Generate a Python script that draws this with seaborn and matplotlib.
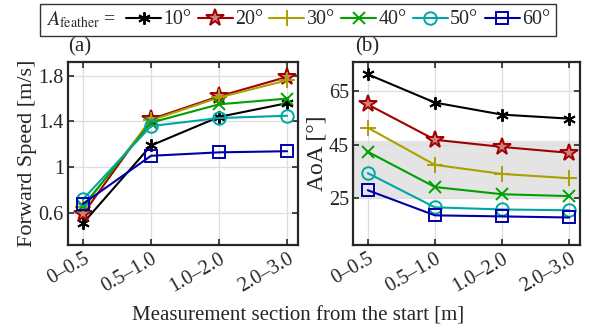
import numpy as np
import pandas as pd
import matplotlib
matplotlib.use('Agg')
import matplotlib.pyplot as plt
import seaborn as sns
from matplotlib.offsetbox import HPacker

sns.set_style('ticks')
plt.rcParams['font.family'] = ['Liberation Serif', 'DejaVu Serif']
plt.rcParams['mathtext.fontset'] = 'stix'

# data
sections = ['0\u20130.5', '0.5\u20131.0', '1.0\u20132.0', '2.0\u20133.0']
angles = ['10°', '20°', '30°', '40°', '50°', '60°']

speed_10 = [0.51, 1.19, 1.44, 1.56]
speed_20 = [0.59, 1.42, 1.62, 1.79]
speed_30 = [0.65, 1.41, 1.61, 1.76]
speed_40 = [0.66, 1.39, 1.55, 1.60]
speed_50 = [0.72, 1.36, 1.43, 1.45]
speed_60 = [0.68, 1.10, 1.13, 1.14]

aoa_10 = [71.4, 60.8, 56.3, 54.8]
aoa_20 = [60.1, 46.9, 44.2, 42.0]
aoa_30 = [51.4, 37.5, 34.1, 32.5]
aoa_40 = [42.4, 29.2, 26.5, 25.8]
aoa_50 = [34.4, 21.6, 20.8, 20.5]
aoa_60 = [28.0, 18.6, 18.2, 17.8]

speed = [speed_10, speed_20, speed_30, speed_40, speed_50, speed_60]
aoa = [aoa_10, aoa_20, aoa_30, aoa_40, aoa_50, aoa_60]

colors = ['black', '#a00000', '#aaa000', '#00a000', '#00a5a5', '#0000a8']
markers = [(6, 2, 0), '*', '+', 'x', 'o', 's']
msizes = [9, 13, 11, 8, 9, 8]

FS = 15
LFS = 14.4

fig = plt.figure(figsize=(5.89, 3.29), dpi=100)
ax1 = fig.add_axes([0.1155, 0.2553, 0.3905, 0.5563])
ax2 = fig.add_axes([0.5993, 0.2553, 0.3854, 0.5563])

ax2.axhspan(25.5, 46.5, color='#e4e4e4', zorder=0)

for i in range(6):
    for ax, vals in [(ax1, speed[i]), (ax2, aoa[i])]:
        face = 'none' if markers[i] in ['o', 's'] else colors[i]
        if markers[i] == '*':
            face = '#d08080'
        sns.lineplot(x=sections, y=vals, ax=ax, color=colors[i], sort=False,
                     marker=markers[i], markersize=msizes[i], mfc=face,
                     mec=colors[i], mew=1.4, linewidth=1.5, label=angles[i],
                     legend=False)

for ax in [ax1, ax2]:
    ax.set_xlim(-0.22, 3.16)
    ax.grid(True, color='#dddddd', linewidth=0.9)
    ax.set_axisbelow(True)
    ax.tick_params(direction='in', top=True, right=True, labelsize=14.5,
                   length=4, width=1.2, pad=3)
    for s in ax.spines.values():
        s.set_linewidth(1.6)
    ax.set_xticks(range(4))
    ax.set_xticklabels(sections, rotation=30, ha='right', rotation_mode='anchor')
    ax.set_xlabel('')

ax1.set_ylim(0.32, 1.92)
ax1.set_yticks([0.6, 1.0, 1.4, 1.8])
ax1.set_yticklabels(['0.6', '1', '1.4', '1.8'])
ax1.set_ylabel('Forward Speed [m/s]', fontsize=16, labelpad=1)

ax2.set_ylim(7.5, 76)
ax2.set_yticks([25, 45, 65])
ax2.set_ylabel('AoA [°]', fontsize=17, labelpad=1)

ax1.text(0.0, 1.03, '(a)', transform=ax1.transAxes, fontsize=FS, va='bottom')
ax2.text(0.01, 1.03, '(b)', transform=ax2.transAxes, fontsize=FS, va='bottom')

fig.text(298 / 589, 1 - 320 / 329, 'Measurement section from the start [m]',
         ha='center', va='baseline', fontsize=FS)

handles, labels = ax1.get_legend_handles_labels()
leg = fig.legend(handles, labels, ncol=6, loc='center', bbox_to_anchor=(298 / 589, 1 - 20 / 329),
                 fontsize=LFS, title='$A_{\\rm feather}$ =', title_fontsize=LFS,
                 frameon=True, fancybox=False, edgecolor='black', handlelength=1.75,
                 handletextpad=0.1, columnspacing=0.33, borderpad=0.22)
leg.get_frame().set_linewidth(1.0)
# put the title on the same row as the entries
leg._legend_box = HPacker(pad=leg.borderpad * LFS * 100 / 72, sep=7, align='center',
                          children=[leg._legend_title_box, leg._legend_handle_box])
leg._legend_box.set_figure(fig)
leg._loc = leg._loc_real

fig.savefig('out.png', dpi=100)
